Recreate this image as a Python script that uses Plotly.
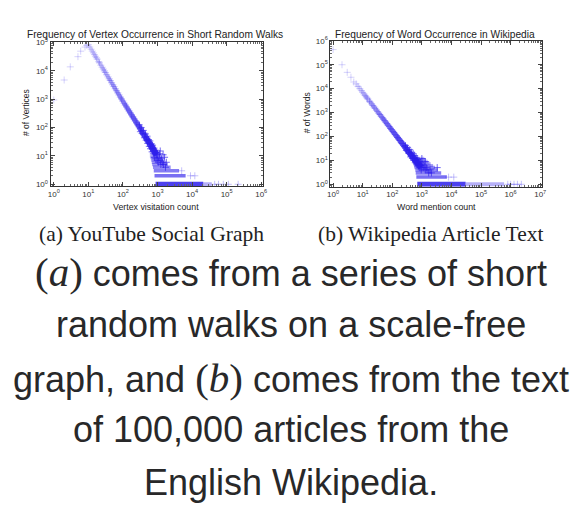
import numpy as np
import plotly.graph_objects as go

W, H = 587, 527

# (a) YouTube: how many vertices were visited k times in short random walks
walk_head_x = [1, 2, 3, 5, 6, 8, 9]
walk_head_y = [950, 4800, 14000, 32000, 50000, 70000, 80000]
walk_band_x = [10, 11, 12, 13, 14, 15, 16, 17, 18, 20, 21, 23, 25, 27, 29, 31, 34, 37,
               40, 43, 47, 51, 55, 60, 65, 71, 77, 84, 91, 99, 108, 117, 127, 138, 150,
               163, 177, 193, 210, 228, 248, 270, 293, 319, 347, 377, 410, 446, 485, 527,
               573, 623, 677, 736, 800, 870, 946]
walk_band_y = [85000, 70200, 59000, 50300, 43400, 37800, 33200, 29400, 26200, 21250,
               19300, 16100, 13600, 11700, 10100, 8850, 7350, 6210, 5310, 4600, 3850,
               3270, 2810, 2360, 2010, 1690, 1430, 1200, 1030, 870, 733, 628, 536, 456,
               389, 331, 282, 239, 203, 173, 147, 125, 107, 91, 77, 66, 56, 47, 40, 34,
               29, 25, 21, 18, 15, 13, 11]
walk_noise_x = [300, 320, 340, 360, 390, 420, 450, 470, 500, 520, 550, 580, 600, 630,
                660, 700, 720, 760, 790, 820, 860, 900, 930, 980, 1000, 1050, 1100, 1150,
                1200, 1250, 1300, 1400, 1500, 1600, 1700, 1800, 1200, 1450]
walk_noise_y = [125, 72, 100, 62, 80, 44, 60, 36, 50, 28, 38, 22, 34, 18, 27, 14, 24, 12,
                19, 9, 16, 8, 13, 7, 11, 6, 9, 12, 7, 5, 8, 6, 5, 9, 4, 6, 15, 11]
walk_rows_y = [1, 2, 3, 4, 5, 6, 7, 8, 9, 10]
walk_rows_x0 = [880, 820, 780, 740, 700, 680, 660, 640, 620, 600]
walk_rows_x1 = [21000, 6500, 4200, 2400, 2000, 1700, 1500, 1400, 1300, 1200]
walk_tail_x = [21000, 37000]
walk_sparse_x = [45000, 58000, 80000, 112000, 215000, 9000, 12000, 5000]
walk_sparse_y = [1, 1, 1, 1, 1, 2, 2, 3]

# (b) Wikipedia: how many words were mentioned k times
wiki_head_x = [1, 2, 3, 4, 5]
wiki_head_y = [430000, 100000, 48000, 30000, 19000]
wiki_band_x = [6, 7, 8, 9, 10, 11, 12, 13, 14, 15, 17, 18, 20, 22, 24, 26, 29, 32, 35,
               38, 42, 46, 50, 55, 60, 66, 72, 79, 87, 95, 104, 114, 125, 137, 150, 165,
               181, 198, 217, 238, 261, 286, 314, 344, 377, 413, 453, 497, 545, 597, 655,
               718, 787, 863, 946]
wiki_band_y = [15850, 12380, 10000, 8290, 7000, 6010, 5230, 4600, 4090, 3660, 2995, 2730,
               2310, 1980, 1725, 1517, 1274, 1089, 943, 827, 704, 609, 533, 458, 398, 342,
               297, 256, 220, 191, 165, 143, 123, 106, 92, 79, 68, 59, 51, 44, 38, 33, 28,
               24, 21, 18, 16, 14, 12, 10, 9, 8, 7, 6, 5]
wiki_noise_x = [280, 300, 330, 360, 390, 420, 450, 480, 510, 540, 570, 600, 640, 680, 720,
                760, 800, 850, 900, 950, 1000, 1100, 1200, 1300, 1400, 1500, 1700, 1900,
                2100, 3300, 1000, 1300]
wiki_noise_y = [42, 26, 34, 20, 28, 14, 22, 12, 19, 10, 16, 8, 13, 7, 11, 6, 9, 5, 8, 4, 7,
                5, 6, 4, 5, 4, 3, 4, 3, 5, 12, 9]
wiki_rows_y = [1, 2, 3, 4, 5, 6, 7, 8, 9, 10, 11, 12]
wiki_rows_x0 = [700, 650, 620, 600, 560, 540, 520, 500, 480, 470, 460, 450]
wiki_rows_x1 = [30000, 7000, 4500, 3500, 2800, 2400, 2000, 1800, 1600, 1400, 1300, 1200]
wiki_tail_x = [30000, 600000]
wiki_sparse_x = [800000, 1000000, 1300000, 1700000, 2300000, 8000, 12000]
wiki_sparse_y = [1, 1, 1, 1, 1, 2, 2]

decade_labels = ['10<sup>%d</sup>' % d for d in range(8)]

titles = ['Frequency of Vertex Occurrence in Short Random Walks',
          'Frequency of Word Occurrence in Wikipedia']
xtitles = ['Vertex visitation count', 'Word mention count']
ytitles = ['# of Vertices', '# of Words']
captions = ['(a) YouTube Social Graph', '(b) Wikipedia Article Text']
MATH = "<span style='font-family:Liberation Serif;font-size:41px'>(<i>%s</i>)</span>"
body_lines = [MATH % 'a' + ' comes from a series of short',
              'random walks on a scale-free',
              'graph, and ' + MATH % 'b' + ' comes from the text',
              'of 100,000 articles from the',
              'English Wikipedia.']


def rgba(a):
    return 'rgba(45,30,235,%.2f)' % a


def shade(x, lo, hi, a0, a1):
    t = (np.log10(np.asarray(x, float)) - np.log10(lo)) / (np.log10(hi) - np.log10(lo))
    return a0 + (a1 - a0) * np.clip(t, 0, 1) ** 1.4


def px_x(p):
    return p / W


def px_y(p):
    return 1 - p / H


def add_panel(fig, n, head, band, noise, rows, tail, sparse, lo, hi):
    xa, ya = ('x', 'y') if n == 1 else ('x%d' % n, 'y%d' % n)
    hx, hy = head
    bx, by = band
    # band drawn as short overlapping line pieces, darker where the points pile up
    for i in range(0, len(bx) - 1, 3):
        sx, sy = bx[i:i + 4], by[i:i + 4]
        a = float(shade([sx[0]], lo, hi, 0.08, 0.85)[0])
        wdt = 3.0 + 3.5 * float(shade([sx[0]], lo, hi, 0, 1)[0])
        fig.add_trace(go.Scatter(x=sx, y=sy, mode='lines', xaxis=xa, yaxis=ya,
                                 line=dict(color=rgba(a), width=wdt), hoverinfo='skip'))
    ry, rx0, rx1 = rows
    for k, (y0, a0, a1) in enumerate(zip(ry, rx0, rx1)):
        alpha = 0.85 if k == 0 else max(0.25, 0.7 - 0.06 * k)
        fig.add_trace(go.Scatter(x=[a0, a1], y=[y0, y0], mode='lines', xaxis=xa, yaxis=ya,
                                 line=dict(color=rgba(alpha), width=5 if k == 0 else 3.5),
                                 hoverinfo='skip'))
    fig.add_trace(go.Scatter(x=tail, y=[1, 1], mode='lines', xaxis=xa, yaxis=ya,
                             line=dict(color=rgba(0.35), width=4), hoverinfo='skip'))
    xs = list(hx) + list(bx) + list(noise[0])
    ys = list(hy) + list(by) + list(noise[1])
    cols = [rgba(a) for a in shade(xs, lo, hi, 0.22, 0.75)]
    fig.add_trace(go.Scatter(x=xs, y=ys, mode='markers', xaxis=xa, yaxis=ya,
                             marker=dict(symbol='cross-thin', size=5,
                                         line=dict(color=cols, width=0.9)),
                             hoverinfo='skip'))
    fig.add_trace(go.Scatter(x=sparse[0], y=sparse[1], mode='markers', xaxis=xa, yaxis=ya,
                             marker=dict(symbol='cross-thin', size=5,
                                         line=dict(color=rgba(0.3), width=0.9)),
                             hoverinfo='skip'))


fig = go.Figure()
add_panel(fig, 1, (walk_head_x, walk_head_y), (walk_band_x, walk_band_y),
          (walk_noise_x, walk_noise_y), (walk_rows_y, walk_rows_x0, walk_rows_x1),
          walk_tail_x, (walk_sparse_x, walk_sparse_y), 10, 700)
add_panel(fig, 2, (wiki_head_x, wiki_head_y), (wiki_band_x, wiki_band_y),
          (wiki_noise_x, wiki_noise_y), (wiki_rows_y, wiki_rows_x0, wiki_rows_x1),
          wiki_tail_x, (wiki_sparse_x, wiki_sparse_y), 4, 500)

TICKFONT = dict(family='Liberation Sans', size=8, color='#333')


def log_axis(ndec, rng, dom):
    minor_vals = [k * 10 ** d for d in range(-1, ndec + 1) for k in range(2, 10)]
    return dict(type='log', range=rng, domain=dom, showgrid=False, zeroline=False,
                showline=True, linecolor='#333', linewidth=1, mirror='allticks',
                ticks='inside', ticklen=4, tickcolor='#444', tickwidth=0.8,
                tickvals=[10 ** d for d in range(ndec + 1)],
                ticktext=decade_labels[:ndec + 1], tickfont=TICKFONT,
                minor=dict(ticks='inside', ticklen=2, tickcolor='#666', tickwidth=0.6,
                           tickmode='array', tickvals=minor_vals, showgrid=False))


fig.update_layout(
    width=W, height=H, margin=dict(l=0, r=0, t=0, b=0),
    paper_bgcolor='white', plot_bgcolor='white', showlegend=False,
    xaxis=dict(log_axis(6, [-0.094, 6.05], [px_x(40), px_x(255)]), anchor='y'),
    yaxis=dict(log_axis(5, [-0.06, 5.03], [px_y(175), px_y(28.3)]), anchor='x'),
    xaxis2=dict(log_axis(7, [-0.09, 7.07], [px_x(323.3), px_x(537.7)]), anchor='y2'),
    yaxis2=dict(log_axis(6, [-0.1, 6.0], [px_y(175.7), px_y(27.3)]), anchor='x2'),
)

ann = []
for cx, t in zip([146, 429], titles):
    ann.append(dict(x=px_x(cx), y=px_y(20.5), text=t,
                    font=dict(family='Liberation Sans', size=10.2, color='#222')))
for cx, t in zip([146.5, 431], xtitles):
    ann.append(dict(x=px_x(cx), y=px_y(196), text=t,
                    font=dict(family='Liberation Sans', size=8.8, color='#222')))
for cx, t in zip([15, 299.5], ytitles):
    ann.append(dict(x=px_x(cx), y=px_y(100), text=t, textangle=-90,
                    font=dict(family='Liberation Sans', size=8.5, color='#222')))
for cx, t in zip([142, 425], captions):
    ann.append(dict(x=px_x(cx), y=px_y(224), text=t,
                    font=dict(family='Liberation Serif', size=21.5, color='#222')))
for cy, t in zip([262, 316, 370, 423, 477], body_lines):
    ann.append(dict(x=px_x(283), y=px_y(cy), text=t,
                    font=dict(family='Liberation Sans', size=36, color='#282829')))
for a in ann:
    a.update(xref='paper', yref='paper', showarrow=False, xanchor='center',
             yanchor='middle')
fig.update_layout(annotations=ann)

fig.write_html('out.html')
